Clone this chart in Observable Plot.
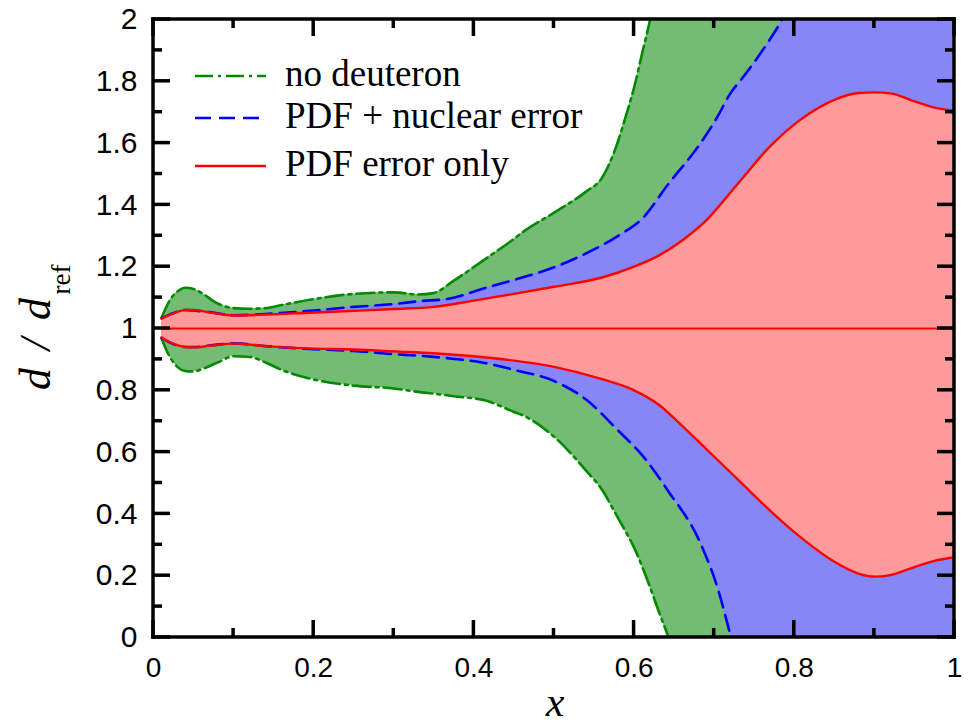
<!DOCTYPE html>
<html>
<head>
<meta charset="utf-8">
<script src="https://cdn.jsdelivr.net/npm/d3@7"></script>
<script src="https://cdn.jsdelivr.net/npm/@observablehq/plot@0.6"></script>
<style>
  html, body { margin: 0; padding: 0; background: #fff; }
  #chart { width: 974px; height: 724px; }
</style>
</head>
<body>
<div id="chart"></div>
<script>
// ---------- data ----------
// "no deuteron" band (green)
const greenX  = [0.01, 0.02, 0.03, 0.04, 0.05, 0.06, 0.08, 0.10, 0.12, 0.14, 0.16, 0.20, 0.25, 0.30, 0.33, 0.35, 0.375, 0.417, 0.45, 0.46, 0.50, 0.54, 0.56, 0.575, 0.59, 0.60, 0.61, 0.62, 0.63, 0.643, 0.66, 1.0];
const greenHi = [1.035, 1.09, 1.12, 1.132, 1.128, 1.115, 1.081, 1.066, 1.064, 1.066, 1.076, 1.095, 1.112, 1.117, 1.11, 1.115, 1.155, 1.23, 1.29, 1.31, 1.375, 1.443, 1.488, 1.57, 1.69, 1.78, 1.89, 2.0, 2.13, 2.3, 2.5, 5.0];
const greenLo = [0.968, 0.91, 0.875, 0.862, 0.861, 0.868, 0.89, 0.91, 0.908, 0.89, 0.866, 0.835, 0.815, 0.806, 0.795, 0.789, 0.781, 0.765, 0.73, 0.72, 0.65, 0.54, 0.478, 0.41, 0.34, 0.291, 0.23, 0.162, 0.09, 0.0, -0.13, -3.0];
// "PDF + nuclear error" band (blue)
const blueX  = [0.01, 0.02, 0.03, 0.04, 0.05, 0.07, 0.10, 0.14, 0.20, 0.25, 0.30, 0.33, 0.37, 0.41, 0.45, 0.50, 0.54, 0.58, 0.61, 0.642, 0.683, 0.704, 0.72, 0.735, 0.755, 0.785, 0.80, 1.0];
const blueHi = [1.033, 1.045, 1.055, 1.06, 1.058, 1.053, 1.043, 1.047, 1.058, 1.07, 1.079, 1.088, 1.097, 1.128, 1.157, 1.198, 1.243, 1.30, 1.355, 1.465, 1.60, 1.685, 1.76, 1.81, 1.88, 2.0, 2.07, 3.5];
const blueLo = [0.970, 0.955, 0.945, 0.94, 0.94, 0.945, 0.952, 0.943, 0.933, 0.927, 0.917, 0.912, 0.903, 0.89, 0.866, 0.83, 0.77, 0.67, 0.59, 0.476, 0.304, 0.162, 0.01, -0.14, -0.3, -0.5, -0.6, -2.0];
// "PDF error only" band (red)
const redX  = [0.01, 0.025, 0.04, 0.05, 0.07, 0.10, 0.14, 0.20, 0.25, 0.30, 0.35, 0.40, 0.45, 0.50, 0.56, 0.60, 0.63, 0.66, 0.69, 0.73, 0.77, 0.81, 0.85, 0.88, 0.90, 0.92, 0.95, 0.975, 1.0];
const redHi = [1.032, 1.049, 1.06, 1.06, 1.052, 1.042, 1.045, 1.052, 1.057, 1.063, 1.07, 1.09, 1.112, 1.135, 1.165, 1.20, 1.235, 1.285, 1.35, 1.47, 1.59, 1.68, 1.74, 1.762, 1.764, 1.761, 1.735, 1.715, 1.705];
const redLo = [0.971, 0.95, 0.94, 0.939, 0.944, 0.951, 0.943, 0.935, 0.932, 0.926, 0.92, 0.91, 0.896, 0.876, 0.836, 0.80, 0.755, 0.685, 0.61, 0.51, 0.41, 0.32, 0.245, 0.207, 0.197, 0.202, 0.228, 0.248, 0.26];
// central value line
const centerX = [0.01, 1.0];
const centerY = [1, 1];

// ticks
const xMajor = [0, 0.2, 0.4, 0.6, 0.8, 1];
const xMinor = [0.1, 0.3, 0.5, 0.7, 0.9];
const xTickLabels = ["0", "0.2", "0.4", "0.6", "0.8", "1"];
const yMajor = [0, 0.2, 0.4, 0.6, 0.8, 1, 1.2, 1.4, 1.6, 1.8, 2];
const yMinor = [0.1, 0.3, 0.5, 0.7, 0.9, 1.1, 1.3, 1.5, 1.7, 1.9];
const yTickLabels = ["0", "0.2", "0.4", "0.6", "0.8", "1", "1.2", "1.4", "1.6", "1.8", "2"];

const legendLabels = ["no deuteron", "PDF + nuclear error", "PDF error only"];

// ---------- layout / style ----------
const W = 974, H = 724;
const mL = 153, mR = 20, mT = 19, mB = 87;
const xDom = [0, 1], yDom = [0, 2];
const majLen = 17, minLen = 9;

const cGreenFill = "#74bc74", cBlueFill = "#8686f6", cRedFill = "#ff9a9a";
const cGreen = "#008a00", cBlue = "#0000ff", cRed = "#ff0000";
const dashGreen = "18,5,3,5", dashBlue = "16,8";

const band = (xs, hi, lo) => xs.map((x, i) => ({x, hi: hi[i], lo: lo[i]}));
const green = band(greenX, greenHi, greenLo);
const blue = band(blueX, blueHi, blueLo);
const red = band(redX, redHi, redLo);
const center = centerX.map((x, i) => ({x, y: centerY[i]}));

const sans = "Liberation Sans, Arial, Helvetica, sans-serif";
const serif = "Liberation Serif, Times New Roman, serif";

const curve = "monotone-x";
const areaOpt = (fill) => ({x: "x", y1: "lo", y2: "hi", fill, curve, clip: true});
const lineOpt = (key, stroke, dash, w) => ({x: "x", y: key, stroke, strokeWidth: w, strokeDasharray: dash, curve, clip: true});

const tw = 3.5; // axis line / tick thickness

const chart = Plot.plot({
  width: W, height: H,
  marginLeft: mL, marginRight: mR, marginTop: mT, marginBottom: mB,
  x: {domain: xDom, axis: null},
  y: {domain: yDom, axis: null},
  style: {background: "#fff", overflow: "visible"},
  marks: [
    Plot.areaY(green, areaOpt(cGreenFill)),
    Plot.areaY(blue, areaOpt(cBlueFill)),
    Plot.areaY(red, areaOpt(cRedFill)),
    Plot.lineY(green, lineOpt("hi", cGreen, dashGreen, 2.6)),
    Plot.lineY(green, lineOpt("lo", cGreen, dashGreen, 2.6)),
    Plot.lineY(blue, lineOpt("hi", cBlue, dashBlue, 2.6)),
    Plot.lineY(blue, lineOpt("lo", cBlue, dashBlue, 2.6)),
    Plot.lineY(red, lineOpt("hi", cRed, null, 2.4)),
    Plot.lineY(red, lineOpt("lo", cRed, null, 2.4)),
    Plot.lineY(center, {x: "x", y: "y", stroke: cRed, strokeWidth: 2.2, clip: true}),
    // tick labels
    Plot.text(xMajor, {x: d => d, y: yDom[0], text: (d, i) => xTickLabels[i], dy: 31, fontSize: 28, fontFamily: sans, fill: "black", textAnchor: "middle"}),
    Plot.text(yMajor, {x: xDom[0], y: d => d, text: (d, i) => yTickLabels[i], dx: -16, fontSize: 30, fontFamily: sans, fill: "black", textAnchor: "end"})
  ]
});

document.getElementById("chart").appendChild(chart);

// ---------- frame, inward ticks, titles and legend (through Plot's scales) ----------
const svg = d3.select(chart);
const sx = chart.scale("x"), sy = chart.scale("y");
const X = v => sx.apply(v), Y = v => sy.apply(v);
const x0 = X(xDom[0]), x1 = X(xDom[1]), y0 = Y(yDom[0]), y1 = Y(yDom[1]);

const ax = svg.append("g").attr("class", "frame-and-ticks");
const box = (x, y, w, h) => ax.append("rect").attr("x", x).attr("y", y).attr("width", w).attr("height", h).attr("fill", "#000").attr("stroke", "none");
// ticks (filled rectangles)
xMajor.forEach(v => { box(X(v) - tw / 2, y0 - majLen, tw, majLen); box(X(v) - tw / 2, y1, tw, majLen); });
xMinor.forEach(v => { box(X(v) - tw / 2, y0 - minLen, tw, minLen); box(X(v) - tw / 2, y1, tw, minLen); });
yMajor.forEach(v => { box(x0, Y(v) - tw / 2, majLen, tw); box(x1 - majLen, Y(v) - tw / 2, majLen, tw); });
yMinor.forEach(v => { box(x0, Y(v) - tw / 2, minLen, tw); box(x1 - minLen, Y(v) - tw / 2, minLen, tw); });
// frame as four filled bars
box(x0 - tw / 2, y1 - tw / 2, x1 - x0 + tw, tw);
box(x0 - tw / 2, y0 - tw / 2, x1 - x0 + tw, tw);
box(x0 - tw / 2, y1 - tw / 2, tw, y0 - y1 + tw);
box(x1 - tw / 2, y1 - tw / 2, tw, y0 - y1 + tw);

// y axis title: d / d_ref
const yt = svg.append("text")
  .attr("transform", "translate(50,390) rotate(-90)")
  .attr("text-anchor", "start")
  .attr("font-family", serif)
  .attr("fill", "black");
yt.append("tspan").attr("font-style", "italic").attr("font-size", 44).attr("textLength", 92).attr("lengthAdjust", "spacing").text("d / d");
yt.append("tspan").attr("font-size", 27).attr("dy", 20).text("ref");

// x axis title
svg.append("text")
  .attr("x", 555).attr("y", 716)
  .attr("text-anchor", "middle")
  .attr("font-family", serif).attr("font-style", "italic").attr("font-size", 42)
  .attr("fill", "black")
  .text("x");

// legend
const legendRows = [
  {label: legendLabels[0], stroke: cGreen, dash: dashGreen, y: 76},
  {label: legendLabels[1], stroke: cBlue, dash: dashBlue, y: 118},
  {label: legendLabels[2], stroke: cRed, dash: null, y: 166}
];
const lg = svg.append("g");
legendRows.forEach(r => {
  lg.append("line")
    .attr("x1", 195).attr("x2", 266).attr("y1", r.y).attr("y2", r.y)
    .attr("stroke", r.stroke).attr("stroke-width", 2.6)
    .attr("stroke-dasharray", r.dash);
  lg.append("text")
    .attr("x", 285).attr("y", r.y + 10)
    .attr("text-anchor", "start")
    .attr("font-family", serif).attr("font-size", 37)
    .attr("fill", "black")
    .text(r.label);
});
</script>
</body>
</html>
